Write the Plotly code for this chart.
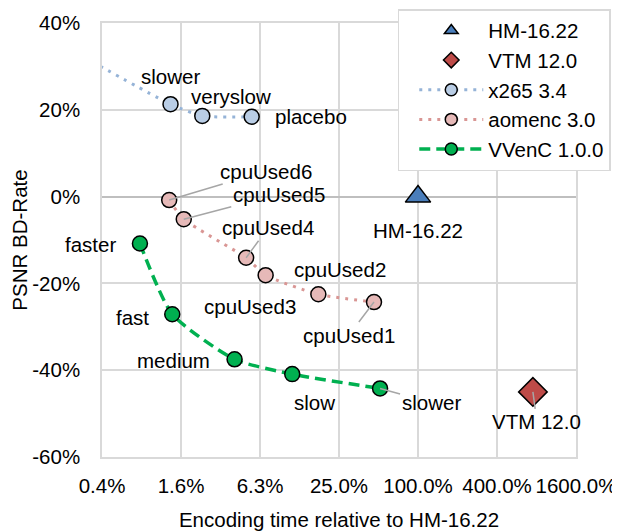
import math
import plotly.graph_objects as go

# ---------------- data ----------------
hm_names = ["HM-16.22"]
hm_time = [100.0]
hm_bd = [0.0]

vtm_names = ["VTM 12.0"]
vtm_time = [751.0]
vtm_bd = [-45.0]

x265_names = ["slow", "slower", "veryslow", "placebo"]
x265_time = [0.25, 1.30, 2.27, 5.4]
x265_bd = [33.1, 21.3, 18.6, 18.4]

aom_names = ["cpuUsed6", "cpuUsed5", "cpuUsed4", "cpuUsed3", "cpuUsed2", "cpuUsed1"]
aom_time = [1.27, 1.64, 4.9, 6.9, 17.4, 46.2]
aom_bd = [-0.8, -5.2, -14.1, -18.1, -22.5, -24.3]

vvenc_names = ["faster", "fast", "medium", "slow", "slower"]
vvenc_time = [0.76, 1.34, 4.0, 11.0, 51.4]
vvenc_bd = [-10.8, -27.1, -37.5, -40.9, -44.2]

series_names = ["HM-16.22", "VTM 12.0", "x265 3.4", "aomenc 3.0", "VVenC 1.0.0"]

x_tickvals = [0.390625, 1.5625, 6.25, 25, 100, 400, 1600]
x_ticktext = ["0.4%", "1.6%", "6.3%", "25.0%", "100.0%", "400.0%", "1600.0%"]
y_tickvals = [-60, -40, -20, 0, 20, 40]
y_ticktext = ["-60%", "-40%", "-20%", "0%", "20%", "40%"]

# ---------------- styles ----------------
FONT = "Liberation Sans, Arial, sans-serif"
FS = 20.5
GRID = "#d9d9d9"
LEAD = "#a6a6a6"

styles = {
    "HM-16.22": dict(mode="markers", symbol="triangle-up", size=22, fill="#4a7ebb", line=None),
    "VTM 12.0": dict(mode="markers", symbol="diamond", size=22, fill="#be4b48", line=None),
    "x265 3.4": dict(mode="lines+markers", symbol="circle", size=15, fill="#b9cde5",
                     line=dict(color="#95b3d7", width=3, dash="3px,6px", shape="spline", smoothing=0.6)),
    "aomenc 3.0": dict(mode="lines+markers", symbol="circle", size=15, fill="#e6b9b8",
                       line=dict(color="#d99694", width=3, dash="3px,6px", shape="spline", smoothing=0.6)),
    "VVenC 1.0.0": dict(mode="lines+markers", symbol="circle", size=15, fill="#00b050",
                        line=dict(color="#00b050", width=3.5, dash="11px,6px", shape="spline", smoothing=0.6)),
}

# label placements: (dx, dy, leader) in pixels relative to the point
lab_x265 = {"slower": (0, -28, False), "veryslow": (29, -19, False), "placebo": (59, 0, False)}
lab_aom = {"cpuUsed6": (97, -29, True), "cpuUsed5": (95, -25, True), "cpuUsed4": (22, -30, True),
           "cpuUsed3": (-16, 31, False), "cpuUsed2": (22, -25, False), "cpuUsed1": (-25, 33, True)}
lab_vvenc = {"faster": (-49, 1, False), "fast": (-40, 3, False), "medium": (-61, 1, False),
             "slow": (22, 28, False), "slower": (51, 14, True)}
lab_hm = {"HM-16.22": (0, 34, False)}
lab_vtm = {"VTM 12.0": (4, 30, True)}

fig = go.Figure()

data_sets = [(hm_time, hm_bd), (vtm_time, vtm_bd), (x265_time, x265_bd),
             (aom_time, aom_bd), (vvenc_time, vvenc_bd)]

# plotted series (no legend entries)
for name, (xs, ys) in zip(series_names, data_sets):
    st = styles[name]
    kw = dict(x=xs, y=ys, name=name, mode=st["mode"], showlegend=False,
              marker=dict(symbol=st["symbol"], size=st["size"], color=st["fill"],
                          line=dict(color="black", width=1.5)))
    if st["line"]:
        kw["line"] = st["line"]
    fig.add_trace(go.Scatter(**kw))

# legend entries with the smaller legend-sized markers
for name in series_names:
    st = styles[name]
    kw = dict(x=[None], y=[None], name=name, mode=st["mode"], showlegend=True,
              marker=dict(symbol=st["symbol"], size=12, color=st["fill"],
                          line=dict(color="black", width=1.5)))
    if st["line"]:
        kw["line"] = st["line"]
    fig.add_trace(go.Scatter(**kw))

annotations = []
for names, xs, ys, labs in [(x265_names, x265_time, x265_bd, lab_x265),
                            (aom_names, aom_time, aom_bd, lab_aom),
                            (vvenc_names, vvenc_time, vvenc_bd, lab_vvenc),
                            (hm_names, hm_time, hm_bd, lab_hm),
                            (vtm_names, vtm_time, vtm_bd, lab_vtm)]:
    for n, xv, yv in zip(names, xs, ys):
        if n not in labs:
            continue
        dx, dy, leader = labs[n]
        a = dict(x=math.log10(xv), y=yv, xref="x", yref="y", text=n,
                 font=dict(family=FONT, size=FS, color="black"))
        if leader:
            a.update(showarrow=True, ax=dx, ay=dy, arrowhead=0, arrowwidth=1.5,
                     arrowcolor=LEAD, standoff=0)
        else:
            a.update(showarrow=False, xshift=dx, yshift=-dy)
        annotations.append(a)

# page body has an 8px default margin -> figure is 612x523 so the window is filled exactly
fig.update_layout(
    width=612, height=523,
    margin=dict(l=94, r=44, t=15, b=74, autoexpand=False),
    paper_bgcolor="white", plot_bgcolor="white",
    font=dict(family=FONT, size=FS, color="black"),
    annotations=annotations,
    showlegend=True,
    legend=dict(x=0.624, y=1.032, xanchor="left", yanchor="top",
                bgcolor="white", bordercolor=GRID, borderwidth=1.5,
                font=dict(family=FONT, size=FS, color="black"),
                itemwidth=64, indentation=15, tracegroupgap=0,
                entrywidth=158),
    shapes=[
        dict(type="line", xref="x", yref="paper", x0=100, x1=100, y0=0, y1=1,
             line=dict(color="#bfbfbf", width=1.5), layer="below"),
    ],
)

fig.update_xaxes(
    type="log", range=[math.log10(x_tickvals[0]), math.log10(x_tickvals[-1])],
    tickvals=x_tickvals, ticktext=x_ticktext, automargin=False,
    showgrid=True, gridcolor=GRID, gridwidth=1.5,
    showline=True, linecolor=GRID, linewidth=1.5, mirror=True,
    ticks="outside", ticklen=10, tickcolor="rgba(0,0,0,0)",
    title=dict(text="Encoding time relative to HM-16.22", standoff=16,
               font=dict(family=FONT, size=FS)),
    zeroline=False,
)
fig.update_yaxes(
    range=[-60, 40], tickvals=y_tickvals, ticktext=y_ticktext, automargin=False,
    showgrid=True, gridcolor=GRID, gridwidth=1.5,
    showline=True, linecolor=GRID, linewidth=1.5, mirror=True,
    zeroline=True, zerolinecolor="#bfbfbf", zerolinewidth=1.5,
    ticks="outside", ticklen=16, tickcolor="rgba(0,0,0,0)",
    title=dict(text="PSNR BD-Rate", standoff=8, font=dict(family=FONT, size=FS)),
)

fig.write_html("out.html")
